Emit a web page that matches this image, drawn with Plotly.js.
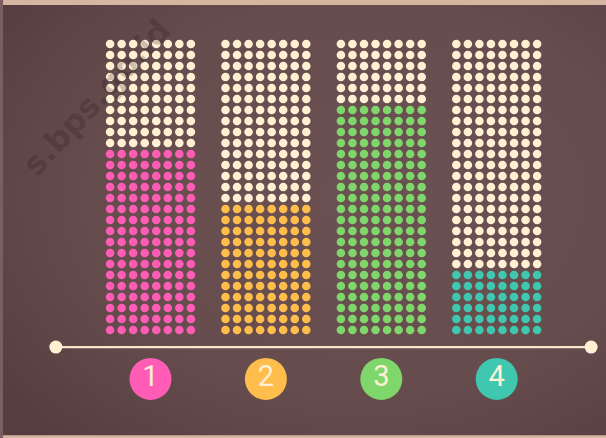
<!DOCTYPE html>
<html>
<head>
<meta charset="utf-8">
<script src="https://cdn.plot.ly/plotly-3.0.1.min.js"></script>
<style>html,body{margin:0;padding:0;background:#664c4d;}#chart{width:606px;height:438px;}</style>
</head>
<body>
<div id="chart"></div>
<script>
// ---- data ----
const categories = ["1", "2", "3", "4"];
const filledRows = [17, 12, 21, 6];     // coloured rows per column of dots
const totalRows = 27;                    // rows of dots per bar
const columnsPerBar = 8;                 // dots per row
const seriesColors = ["#ff5cb6", "#ffbd4b", "#7fd76b", "#3fc7af"];
const emptyColor = "#fff0d3";

// ---- build traces ----
const colStep = 0.1;
const traces = [];
const ex = [], ey = [];
categories.forEach((c, i) => {
  const fx = [], fy = [];
  for (let r = 0; r < totalRows; r++) {
    for (let j = 0; j < columnsPerBar; j++) {
      const x = (i + 1) + (j - (columnsPerBar - 1) / 2) * colStep;
      if (r < filledRows[i]) { fx.push(x); fy.push(r); } else { ex.push(x); ey.push(r); }
    }
  }
  traces.push({type: "scatter", mode: "markers", x: fx, y: fy, hoverinfo: "skip",
    marker: {size: 8.6, color: seriesColors[i], line: {width: 0}}});
});
traces.push({type: "scatter", mode: "markers", x: ex, y: ey, hoverinfo: "skip",
  marker: {size: 8.6, color: emptyColor, line: {width: 0}}});

// baseline with end caps
traces.push({type: "scatter", mode: "lines+markers", x: [0.18, 4.818], y: [-1.55, -1.55], hoverinfo: "skip",
  line: {color: "#f6e6cc", width: 2.2}, marker: {size: 13, color: "#fff0d3"}});

// category badges
traces.push({type: "scatter", mode: "markers+text", x: categories.map((c, i) => i + 1),
  y: categories.map(() => -4.45), text: categories, textposition: "middle center",
  textfont: {family: "Roboto, 'Open Sans', sans-serif", size: 29, color: "#fff0d3"},
  hoverinfo: "skip", marker: {size: 42, color: seriesColors, line: {width: 0}}});

const vignette = "data:image/svg+xml;charset=utf-8," + encodeURIComponent(
  '<svg xmlns="http://www.w3.org/2000/svg" width="606" height="438">' +
  '<defs><radialGradient id="g" cx="0.6" cy="0.45" r="0.75">' +
  '<stop offset="0" stop-color="#6b5152"/><stop offset="0.6" stop-color="#664c4d"/>' +
  '<stop offset="1" stop-color="#563e40"/></radialGradient></defs>' +
  '<rect width="606" height="438" fill="url(#g)"/></svg>');

const layout = {
  width: 606, height: 438,
  margin: {l: 0, r: 0, t: 0, b: 0},
  paper_bgcolor: "#664c4d", plot_bgcolor: "rgba(0,0,0,0)",
  showlegend: false,
  xaxis: {range: [-0.304, 4.947], visible: false, fixedrange: true},
  yaxis: {range: [-9.82, 30.0], visible: false, fixedrange: true},
  images: [{source: vignette, xref: "paper", yref: "paper", x: 0, y: 1, sizex: 1, sizey: 1,
    xanchor: "left", yanchor: "top", sizing: "stretch", layer: "below"}],
  shapes: [
    {type: "rect", xref: "paper", yref: "paper", x0: 0, x1: 1, y0: 0.9885, y1: 1, line: {width: 0}, fillcolor: "#d6b5a1"},
    {type: "rect", xref: "paper", yref: "paper", x0: 0, x1: 1, y0: 0, y1: 0.006, line: {width: 0}, fillcolor: "#d6b5a1"},
    {type: "rect", xref: "paper", yref: "paper", x0: 0, x1: 0.005, y0: 0, y1: 1, line: {width: 0}, fillcolor: "#7b5f5f"}
  ],
  annotations: [
    {xref: "paper", yref: "paper", x: 0.16, y: 0.778, xanchor: "center", yanchor: "middle",
      text: "<b>s.bps.go.id</b>", showarrow: false, textangle: -47,
      font: {family: "DejaVu Sans, sans-serif", size: 32, color: "rgba(35,20,25,0.22)"}}
  ]
};

Plotly.newPlot("chart", traces, layout, {staticPlot: true, displayModeBar: false});
</script>
</body>
</html>
